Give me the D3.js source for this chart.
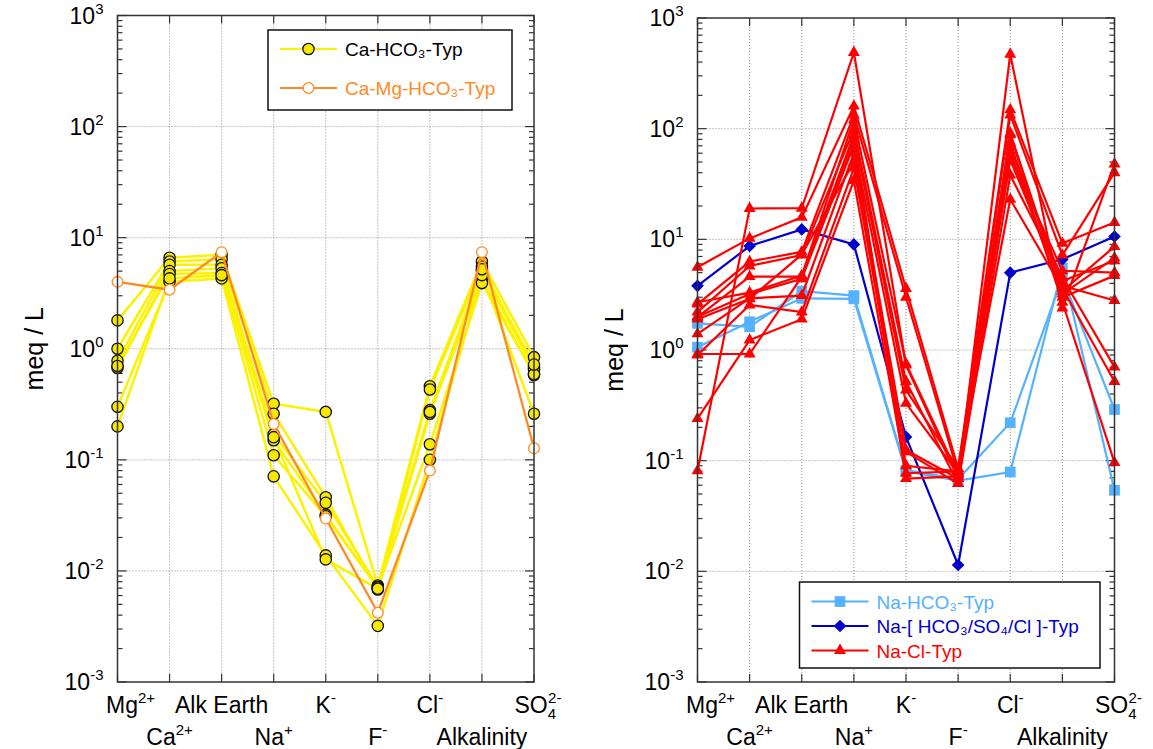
<!DOCTYPE html>
<html>
<head>
<meta charset="utf-8">
<script src="https://cdn.jsdelivr.net/npm/d3@7"></script>
<style>
  body { margin: 0; background: #fff; }
  svg text { font-family: "Liberation Sans", Arial, sans-serif; }
</style>
</head>
<body>
<div id="chart"></div>
<script>
// categories along the x axis (same for both panels)
const categories = ["Mg", "Ca", "AlkE", "Na", "K", "F", "Cl", "Alk", "SO4"];

// left panel: Ca-HCO3-Typ samples (meq/L)
const caHco3 = [
  [1.8, 6.6, 7.0, 0.32, 0.27, 0.0074, 0.46, 6.1, 0.84],
  [1.0, 6.1, 6.4, 0.26, 0.046, 0.0068, 0.43, 5.5, 0.67],
  [0.78, 5.7, 5.7, 0.17, 0.041, 0.0072, 0.28, 5.0, 0.65],
  [0.67, 5.0, 5.3, 0.15, 0.032, 0.0070, 0.26, 4.3, 0.58],
  [0.70, 4.7, 4.8, 0.11, 0.031, 0.0071, 0.138, 3.9, 0.59],
  [0.30, 4.0, 4.3, 0.071, 0.0138, 0.0032, 0.10, 4.6, 0.26],
  [0.20, 4.3, 4.6, 0.16, 0.0127, 0.0069, 0.27, 5.2, 0.72]
];
// left panel: Ca-Mg-HCO3-Typ
const caMgHco3 = [
  [4.0, 3.4, 7.4, 0.21, 0.0296, 0.0042, 0.08, 7.4, 0.127]
];

// right panel: Na-HCO3-Typ
const naHco3 = [
  [1.74, 1.62, 3.4, 3.1, 0.082, 0.068, 0.22, 4.5, 0.29],
  [1.06, 1.8, 2.93, 2.9, 0.08, 0.066, 0.079, 5.5, 0.054]
];
// right panel: Na-[HCO3/SO4/Cl]-Typ
const naMixed = [
  [3.8, 8.7, 12.3, 9.0, 0.164, 0.0114, 5.0, 6.6, 10.6]
];
// right panel: Na-Cl-Typ
const naCl = [
  [5.6, 10.2, 15.8, 160, 3.6, 0.085, 148, 9.2, 14.2],
  [0.081, 19, 19.1, 488, 0.73, 0.069, 471, 2.4, 48],
  [2.6, 6.3, 7.7, 133, 3.0, 0.077, 133, 7.2, 40],
  [2.2, 5.75, 7.2, 98, 0.52, 0.062, 91, 3.4, 8.6],
  [1.98, 4.6, 4.6, 88, 0.435, 0.085, 69, 4.2, 6.4],
  [2.0, 3.2, 4.4, 71, 0.33, 0.077, 62, 3.0, 4.7],
  [1.4, 2.93, 3.1, 60, 0.125, 0.069, 52, 3.8, 2.8],
  [0.90, 2.55, 2.2, 44, 0.12, 0.062, 38, 4.5, 0.70],
  [0.24, 1.23, 1.9, 34, 0.077, 0.08, 23, 3.6, 0.52],
  [0.92, 0.92, 4.6, 80, 0.069, 0.072, 75, 2.7, 0.096],
  [1.9, 2.9, 7.3, 50, 0.09, 0.08, 56, 5.2, 5.0],
  [2.7, 3.3, 4.7, 120, 0.75, 0.075, 88, 3.2, 6.8]
];

// x tick labels: [main, sup, sub]
const xLabels = [
  ["Mg", "2+", ""], ["Ca", "2+", ""], ["Alk Earth", "", ""], ["Na", "+", ""],
  ["K", "-", ""], ["F", "-", ""], ["Cl", "-", ""], ["Alkalinity", "", ""], ["SO", "2-", "4"]
];
const yTickExps = [-3, -2, -1, 0, 1, 2, 3];

const width = 1153, height = 749;

const svg = d3.select("#chart")
  .append("svg")
  .attr("width", width)
  .attr("height", height);

function drawPanel(p) {
  const x = d3.scalePoint().domain(categories).range([p.left, p.right]).padding(0);
  const y = d3.scaleLog().domain([1e-3, 1e3]).range([p.bottom, p.top]);
  const g = svg.append("g");

  // grid
  const gridY = [1e-2, 1e-1, 1, 10, 100];
  g.selectAll(".gy").data(gridY).enter().append("line")
    .attr("x1", p.left).attr("x2", p.right)
    .attr("y1", d => y(d)).attr("y2", d => y(d))
    .attr("stroke", "#8c8c8c").attr("stroke-width", 1).attr("stroke-dasharray", "1,2");
  g.selectAll(".gx").data(categories.slice(1, -1)).enter().append("line")
    .attr("x1", d => x(d)).attr("x2", d => x(d))
    .attr("y1", p.top).attr("y2", p.bottom)
    .attr("stroke", "#8c8c8c").attr("stroke-width", 1).attr("stroke-dasharray", "1,2");

  // y ticks inward on both sides
  const minor = [];
  for (let e = -3; e < 3; e++) for (let m = 2; m <= 9; m++) minor.push(m * Math.pow(10, e));
  const ticks = minor.map(v => ({v, len: 5})).concat(yTickExps.map(e => ({v: Math.pow(10, e), len: 9})));
  [p.left, p.right].forEach((xx, i) => {
    g.selectAll(null).data(ticks).enter().append("line")
      .attr("x1", xx).attr("x2", d => i === 0 ? xx + d.len : xx - d.len)
      .attr("y1", d => y(d.v)).attr("y2", d => y(d.v))
      .attr("stroke", "#333").attr("stroke-width", 1.2);
  });
  // x ticks top and bottom
  [p.top, p.bottom].forEach((yy, i) => {
    g.selectAll(null).data(categories).enter().append("line")
      .attr("x1", d => x(d)).attr("x2", d => x(d))
      .attr("y1", yy).attr("y2", i === 0 ? yy + 8 : yy - 8)
      .attr("stroke", "#333").attr("stroke-width", 1.2);
  });

  // series
  const line = d3.line().x((d, i) => x(categories[i])).y(d => y(d));
  p.groups.forEach(grp => {
    const sg = g.append("g");
    sg.selectAll("path.l").data(grp.data).enter().append("path")
      .attr("d", line)
      .attr("fill", "none")
      .attr("stroke", grp.color)
      .attr("stroke-width", grp.lw);
    grp.data.forEach(row => {
      sg.selectAll(null).data(row).enter().append("path")
        .attr("d", d3.symbol().type(grp.symbol).size(grp.size))
        .attr("transform", (d, i) => `translate(${x(categories[i])},${y(d)})${grp.rotate ? " rotate(45)" : ""}`)
        .attr("fill", grp.fill)
        .attr("stroke", grp.stroke)
        .attr("stroke-width", grp.sw);
    });
  });

  // frame
  g.append("rect")
    .attr("x", p.left).attr("y", p.top)
    .attr("width", p.right - p.left).attr("height", p.bottom - p.top)
    .attr("fill", "none").attr("stroke", "#333").attr("stroke-width", 1.5);

  // y tick labels
  yTickExps.forEach(e => {
    const t = g.append("text")
      .attr("x", p.left - 14).attr("y", y(Math.pow(10, e)) + 8)
      .attr("text-anchor", "end")
      .attr("font-size", 23);
    t.append("tspan").text("10");
    t.append("tspan").attr("font-size", 15).attr("dy", -10).text(e < 0 ? "-" + (-e) : String(e));
  });

  // y axis title
  g.append("text")
    .attr("transform", `translate(${p.left - 75},${(p.top + p.bottom) / 2}) rotate(-90)`)
    .attr("text-anchor", "middle")
    .attr("font-size", 25)
    .text("meq / L");

  // x labels, two staggered rows
  xLabels.forEach((lab, i) => {
    const row = i % 2;
    const t = g.append("text")
      .attr("x", x(categories[i]) + (i === 0 ? 13 : 0) + (i === 8 ? 4 : 0))
      .attr("y", p.bottom + (row === 0 ? 31 : 63))
      .attr("text-anchor", "middle")
      .attr("font-size", 23);
    t.append("tspan").text(lab[0]);
    if (lab[2]) {
      t.append("tspan").attr("font-size", 15).attr("dy", 6).text(lab[2]);
      t.append("tspan").attr("font-size", 15).attr("dx", -8).attr("dy", -16).text(lab[1]);
    } else if (lab[1]) {
      t.append("tspan").attr("font-size", 15).attr("dy", -10).text(lab[1]);
    }
  });

  // legend
  const L = p.legend;
  g.append("rect")
    .attr("x", L.x).attr("y", L.y).attr("width", L.w).attr("height", L.h)
    .attr("fill", "#fff").attr("stroke", "#111").attr("stroke-width", 1.5);
  p.groups.forEach((grp, i) => {
    const ly = L.y + L.first + i * L.step;
    g.append("line")
      .attr("x1", L.x + 12).attr("x2", L.x + 12 + L.lineW)
      .attr("y1", ly).attr("y2", ly)
      .attr("stroke", grp.color).attr("stroke-width", 2);
    g.append("path")
      .attr("d", d3.symbol().type(grp.symbol).size(grp.size))
      .attr("transform", `translate(${L.x + 12 + L.lineW / 2},${ly})${grp.rotate ? " rotate(45)" : ""}`)
      .attr("fill", grp.fill).attr("stroke", grp.stroke).attr("stroke-width", grp.sw);
    g.append("text")
      .attr("x", L.x + 20 + L.lineW).attr("y", ly + 7)
      .attr("font-size", L.fs)
      .attr("fill", grp.textColor)
      .text(grp.name);
  });
}

drawPanel({
  left: 117.5, right: 534, top: 15.5, bottom: 682,
  groups: [
    {name: "Ca-HCO₃-Typ", data: caHco3, color: "#fbf200", lw: 2.5, symbol: d3.symbolCircle, size: 100,
     fill: "#f8e800", stroke: "#111", sw: 1.3, textColor: "#000"},
    {name: "Ca-Mg-HCO₃-Typ", data: caMgHco3, color: "#ff8a24", lw: 2.3, symbol: d3.symbolCircle, size: 90,
     fill: "#fff", stroke: "#ff8a24", sw: 1.3, textColor: "#ff8a24"}
  ],
  legend: {x: 268, y: 30, w: 244, h: 80, first: 19, step: 39, lineW: 57, fs: 19}
});

drawPanel({
  left: 697.5, right: 1114.5, top: 18, bottom: 682,
  groups: [
    {name: "Na-HCO₃-Typ", data: naHco3, color: "#55b2ff", lw: 2.2, symbol: d3.symbolSquare, size: 115,
     fill: "#55b2ff", stroke: "none", sw: 0, textColor: "#55b2ff"},
    {name: "Na-[ HCO₃/SO₄/Cl ]-Typ", data: naMixed, color: "#0000cc", lw: 2.2, symbol: d3.symbolSquare, size: 80,
     rotate: true, fill: "#0000cc", stroke: "none", sw: 0, textColor: "#0000cc"},
    {name: "Na-Cl-Typ", data: naCl, color: "#ff0000", lw: 2.2, symbol: d3.symbolTriangle, size: 62,
     fill: "#ff0000", stroke: "none", sw: 0, textColor: "#ff0000"}
  ],
  legend: {x: 799.5, y: 582, w: 300.5, h: 86, first: 19.5, step: 24.5, lineW: 57, fs: 19}
});
</script>
</body>
</html>
